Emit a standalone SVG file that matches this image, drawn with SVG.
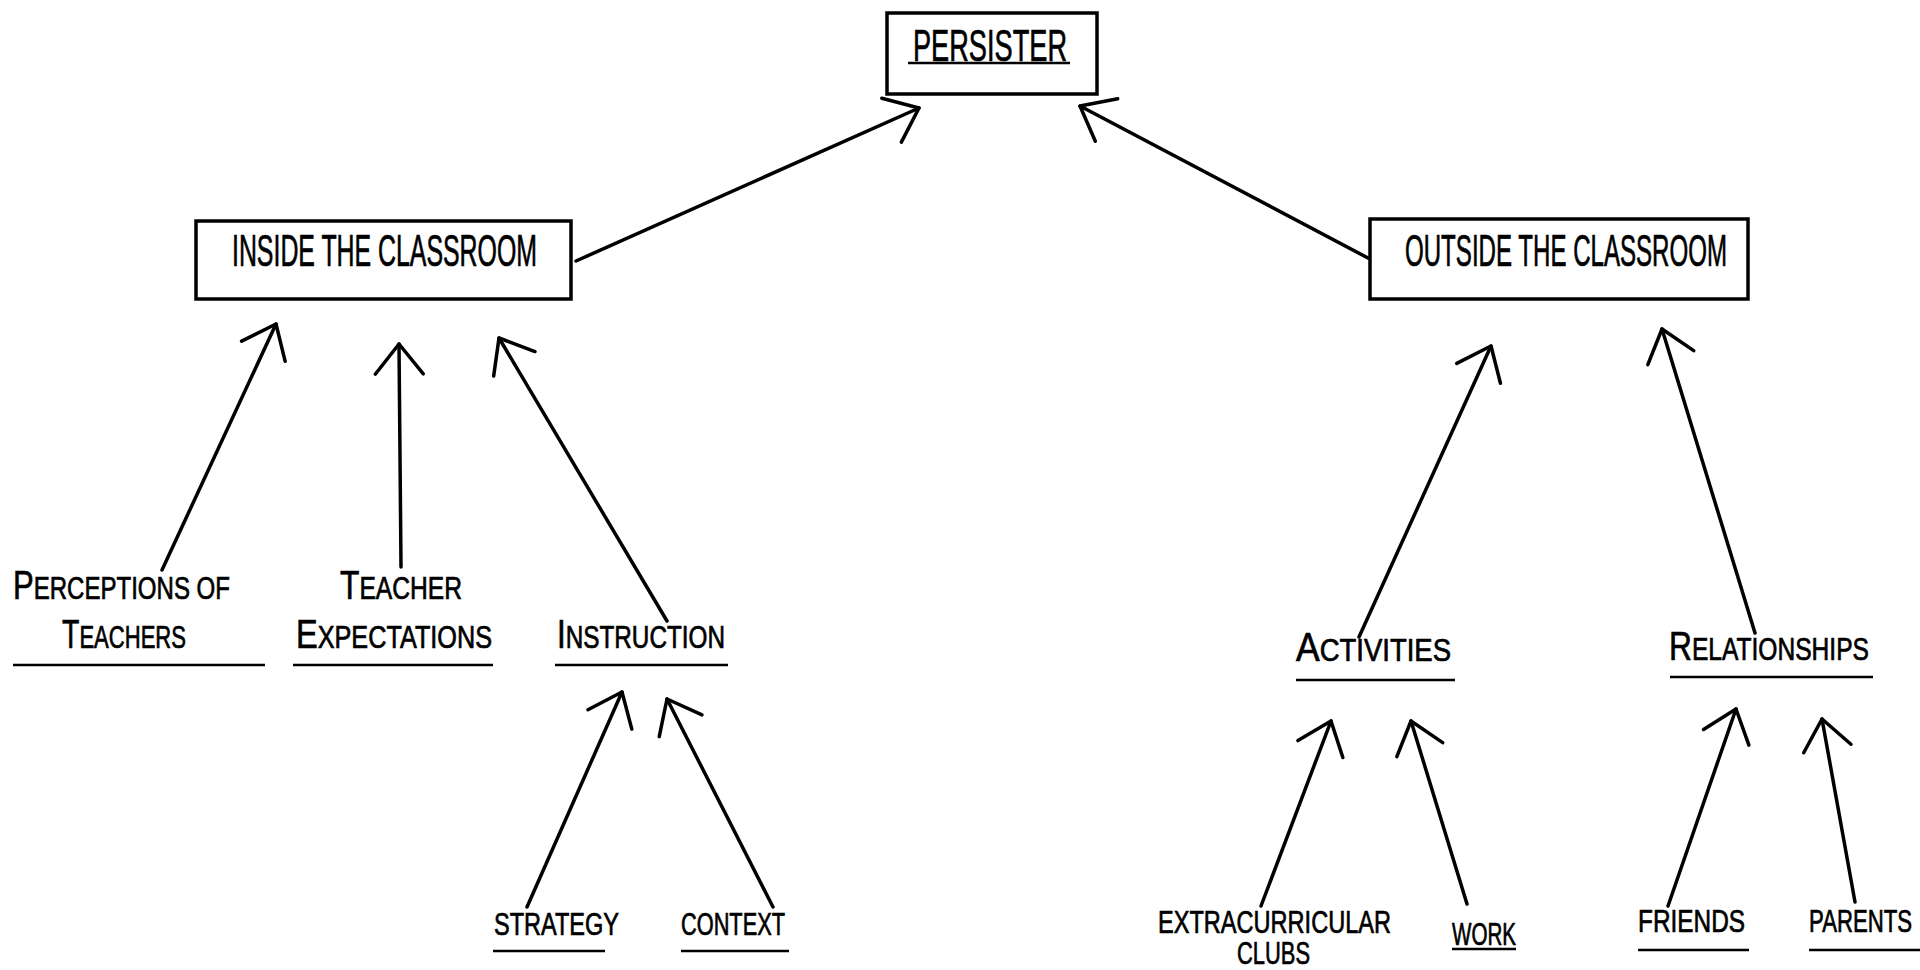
<svg xmlns="http://www.w3.org/2000/svg" width="1920" height="970" viewBox="0 0 1920 970">
<style>
.box{fill:none;stroke:#000;stroke-width:3.5}
.t{font-family:"Liberation Sans","DejaVu Sans",sans-serif;fill:#000;stroke:#000;stroke-width:0.7}
.big{font-size:44px}
.lbl{font-size:31px}
.cap{font-size:40px}
.sm{font-size:31px}
.ul{stroke:#000;stroke-width:2.5;fill:none}
.arr{stroke:#000;stroke-width:3.5;fill:none;stroke-linecap:round;marker-end:url(#ah)}
</style>
<defs>
<marker id="ah" markerUnits="userSpaceOnUse" markerWidth="60" markerHeight="60" viewBox="-40 -30 50 60" refX="0" refY="0" orient="auto">
<path d="M-30,-24 L0,0 L-30,24" fill="none" stroke="#000" stroke-width="3.5" stroke-linecap="round" stroke-linejoin="round"/>
</marker>
</defs>
<rect width="1920" height="970" fill="#fff"/>

<g id="persister">
<rect class="box" x="887" y="13" width="210" height="81"/>
<text class="t big" x="913" y="61" textLength="154" lengthAdjust="spacingAndGlyphs">PERSISTER</text>
<line class="ul" x1="908" y1="63" x2="1070" y2="63"/>
</g>

<g id="inside">
<rect class="box" x="196" y="221" width="375" height="78"/>
<text class="t big" x="232" y="266" textLength="305" lengthAdjust="spacingAndGlyphs">INSIDE THE CLASSROOM</text>
</g>

<g id="outside">
<rect class="box" x="1370" y="219" width="378" height="80"/>
<text class="t big" x="1405" y="266" textLength="322" lengthAdjust="spacingAndGlyphs">OUTSIDE THE CLASSROOM</text>
</g>

<g id="perceptions">
<text class="t" x="13" y="599" textLength="217" lengthAdjust="spacingAndGlyphs"><tspan class="cap">P</tspan><tspan class="lbl">ERCEPTIONS OF</tspan></text>
<text class="t" x="62" y="648" textLength="124" lengthAdjust="spacingAndGlyphs"><tspan class="cap">T</tspan><tspan class="lbl">EACHERS</tspan></text>
<line class="ul" x1="13" y1="665" x2="265" y2="665"/>
</g>

<g id="expectations">
<text class="t" x="340" y="599" textLength="122" lengthAdjust="spacingAndGlyphs"><tspan class="cap">T</tspan><tspan class="lbl">EACHER</tspan></text>
<text class="t" x="296" y="648" textLength="196" lengthAdjust="spacingAndGlyphs"><tspan class="cap">E</tspan><tspan class="lbl">XPECTATIONS</tspan></text>
<line class="ul" x1="293" y1="665" x2="493" y2="665"/>
</g>

<g id="instruction">
<text class="t" x="557" y="648" textLength="168" lengthAdjust="spacingAndGlyphs"><tspan class="cap">I</tspan><tspan class="lbl">NSTRUCTION</tspan></text>
<line class="ul" x1="555" y1="665" x2="728" y2="665"/>
</g>

<g id="strategy">
<text class="t sm" x="494" y="935" textLength="125" lengthAdjust="spacingAndGlyphs">STRATEGY</text>
<line class="ul" x1="493" y1="951" x2="605" y2="951"/>
</g>

<g id="context">
<text class="t sm" x="681" y="935" textLength="104" lengthAdjust="spacingAndGlyphs">CONTEXT</text>
<line class="ul" x1="681" y1="951" x2="789" y2="951"/>
</g>

<g id="activities">
<text class="t" x="1296" y="661" textLength="155" lengthAdjust="spacingAndGlyphs"><tspan class="cap">A</tspan><tspan class="lbl">CTIVITIES</tspan></text>
<line class="ul" x1="1296" y1="680" x2="1455" y2="680"/>
</g>

<g id="relationships">
<text class="t" x="1669" y="660" textLength="200" lengthAdjust="spacingAndGlyphs"><tspan class="cap">R</tspan><tspan class="lbl">ELATIONSHIPS</tspan></text>
<line class="ul" x1="1670" y1="677" x2="1873" y2="677"/>
</g>

<g id="extracurricular">
<text class="t sm" x="1158" y="933" textLength="233" lengthAdjust="spacingAndGlyphs">EXTRACURRICULAR</text>
<text class="t sm" x="1237" y="964" textLength="73" lengthAdjust="spacingAndGlyphs">CLUBS</text>
</g>

<g id="work">
<text class="t sm" x="1452" y="945" textLength="64" lengthAdjust="spacingAndGlyphs">WORK</text>
<line class="ul" x1="1452" y1="949" x2="1516" y2="949"/>
</g>

<g id="friends">
<text class="t sm" x="1638" y="932" textLength="107" lengthAdjust="spacingAndGlyphs">FRIENDS</text>
<line class="ul" x1="1638" y1="950" x2="1749" y2="950"/>
</g>

<g id="parents">
<text class="t sm" x="1809" y="932" textLength="103" lengthAdjust="spacingAndGlyphs">PARENTS</text>
<line class="ul" x1="1809" y1="950" x2="1920" y2="950"/>
</g>

<g id="connectors">
<line class="arr" x1="576" y1="261" x2="919" y2="108"/>
<line class="arr" x1="1368" y1="258" x2="1080" y2="106"/>
<line class="arr" x1="162" y1="570" x2="276" y2="324"/>
<line class="arr" x1="401" y1="567" x2="399" y2="344"/>
<line class="arr" x1="667" y1="621" x2="499" y2="338"/>
<line class="arr" x1="527" y1="907" x2="622" y2="692"/>
<line class="arr" x1="773" y1="907" x2="667" y2="699"/>
<line class="arr" x1="1359" y1="637" x2="1491" y2="346"/>
<line class="arr" x1="1755" y1="633" x2="1662" y2="329"/>
<line class="arr" x1="1261" y1="906" x2="1331" y2="721"/>
<line class="arr" x1="1467" y1="904" x2="1411" y2="721"/>
<line class="arr" x1="1668" y1="906" x2="1736" y2="709"/>
<line class="arr" x1="1855" y1="902" x2="1822" y2="719"/>
</g>
</svg>
